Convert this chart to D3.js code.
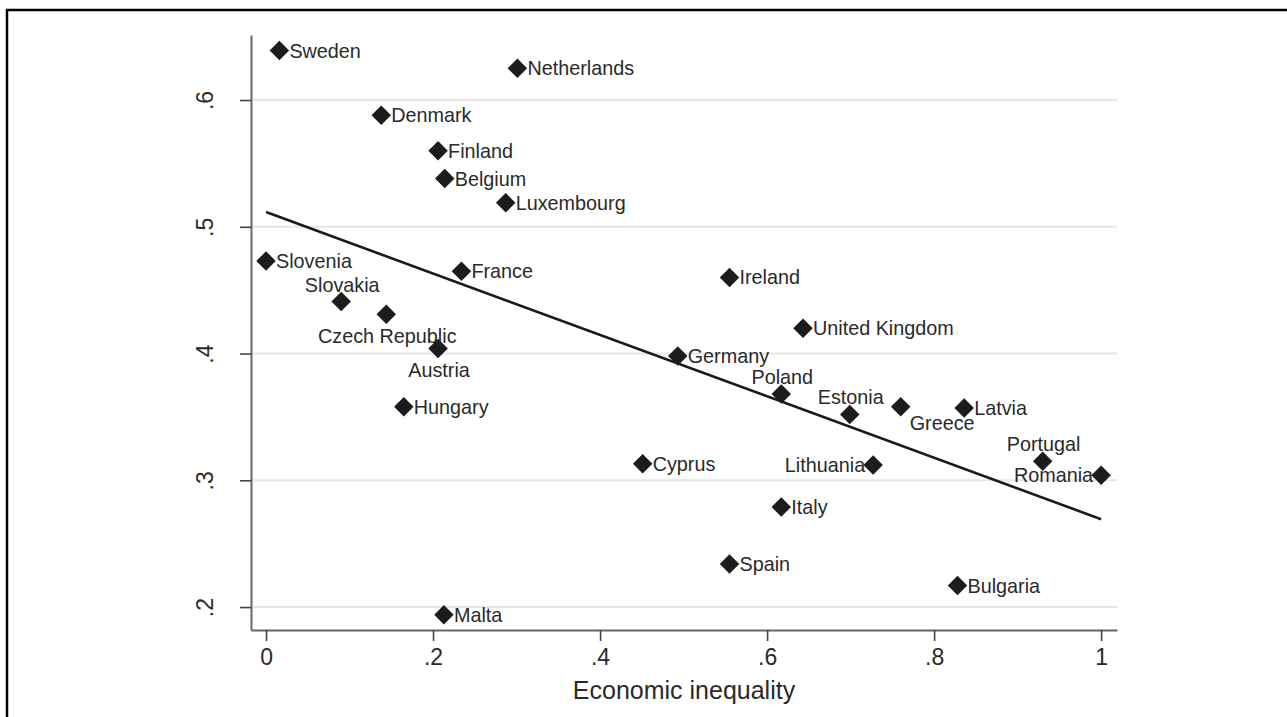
<!DOCTYPE html>
<html>
<head>
<meta charset="utf-8">
<script src="https://cdn.jsdelivr.net/npm/d3@7"></script>
<style>
  html, body { margin: 0; padding: 0; background: #fff; }
  svg { display: block; }
  text { font-family: "Liberation Sans", Arial, sans-serif; fill: #2a2a2a; }
</style>
</head>
<body>
<svg id="chart" width="1287" height="717"></svg>
<script>
// Country scores: economic inequality (x) against the outcome measure (y)
const countries = ["Sweden","Netherlands","Denmark","Finland","Belgium","Luxembourg","Slovenia","France",
  "Ireland","Slovakia","Czech Republic","United Kingdom","Austria","Germany","Poland","Estonia","Greece",
  "Latvia","Hungary","Cyprus","Lithuania","Portugal","Romania","Italy","Spain","Bulgaria","Malta"];
const inequality = [0.016,0.301,0.138,0.206,0.214,0.287,0.0,0.234,0.555,0.090,0.144,0.643,0.206,0.493,
  0.617,0.699,0.760,0.836,0.165,0.451,0.727,0.930,1.0,0.617,0.555,0.828,0.213];
const outcome = [0.639,0.625,0.588,0.560,0.538,0.519,0.473,0.465,0.460,0.441,0.431,0.420,0.404,0.398,
  0.368,0.352,0.358,0.357,0.358,0.313,0.312,0.315,0.304,0.279,0.234,0.217,0.194];
// Label placement around each marker (clock position)
const labelPos = [3,3,3,3,3,3,3,3,3,12,6,3,6,3,12,12,4,3,3,3,9,12,9,3,3,3,3];

// Fitted line: value at inequality 0 and at 1
const fitX = [0, 1];
const fitY = [0.5116, 0.2693];

const xTicks = [0, 0.2, 0.4, 0.6, 0.8, 1];
const yTicks = [0.2, 0.3, 0.4, 0.5, 0.6];
const xTitle = "Economic inequality";

const svg = d3.select("#chart");
const plot = { left: 251, right: 1117, top: 35, bottom: 630 };

const x = d3.scaleLinear().domain([-0.018, 1.019]).range([plot.left, plot.right]);
const y = d3.scaleLinear().domain([0.1819, 0.6513]).range([plot.bottom, plot.top]);
const fmt = v => v === 0 ? "0" : v === 1 ? "1" : d3.format(".1f")(v).replace(/^0/, "");

// outer frame
svg.append("path")
  .attr("d", `M7,${717 + 5} L7,10 L${1287 + 5},10`)
  .attr("fill", "none").attr("stroke", "#000").attr("stroke-width", 2.5);

// horizontal gridlines
svg.append("g").selectAll("line").data(yTicks).join("line")
  .attr("x1", plot.left).attr("x2", plot.right)
  .attr("y1", d => y(d)).attr("y2", d => y(d))
  .attr("stroke", "#e6e6e6").attr("stroke-width", 2);

// axes
const xAxis = svg.append("g").attr("transform", `translate(0,${plot.bottom})`)
  .call(d3.axisBottom(x).tickValues(xTicks).tickFormat(fmt).tickSizeInner(11).tickSizeOuter(0).tickPadding(8));
const yAxis = svg.append("g").attr("transform", `translate(${plot.left},0)`)
  .call(d3.axisLeft(y).tickValues(yTicks).tickFormat(fmt).tickSizeInner(11).tickSizeOuter(0).tickPadding(0));
[xAxis, yAxis].forEach(g => {
  g.select(".domain").attr("stroke", "#666").attr("stroke-width", 2);
  g.selectAll(".tick line").attr("stroke", "#444").attr("stroke-width", 1.6);
  g.selectAll(".tick text").style("font-family", '"Liberation Sans", Arial, sans-serif')
    .style("font-size", "23px").attr("fill", "#2a2a2a");
});
xAxis.selectAll(".tick text").attr("dy", "0.71em");
yAxis.selectAll(".tick text")
  .attr("x", null).attr("dy", null)
  .attr("text-anchor", "middle")
  .attr("transform", "translate(-38,0) rotate(-90)");

// axis title
svg.append("text")
  .attr("x", (plot.left + plot.right) / 2).attr("y", 699)
  .attr("text-anchor", "middle").style("font-size", "25px")
  .text(xTitle);

// fitted line
svg.append("line")
  .attr("x1", x(fitX[0])).attr("y1", y(fitY[0]))
  .attr("x2", x(fitX[1])).attr("y2", y(fitY[1]))
  .attr("stroke", "#1a1a1a").attr("stroke-width", 2.6);

// markers
const pts = countries.map((c, i) => ({ name: c, x: inequality[i], y: outcome[i], pos: labelPos[i] }));
const diamond = d3.symbol().type(d3.symbolSquare).size(190);
svg.append("g").selectAll("path").data(pts).join("path")
  .attr("d", diamond)
  .attr("transform", d => `translate(${x(d.x)},${y(d.y)}) rotate(45)`)
  .attr("fill", "#1c1c1c");

// labels
const offsets = {
  3: { dx: 10, dy: 7, anchor: "start" },
  4: { dx: 9, dy: 23, anchor: "start" },
  6: { dx: 1, dy: 29, anchor: "middle" },
  9: { dx: -8, dy: 7, anchor: "end" },
  12: { dx: 1, dy: -10, anchor: "middle" }
};
svg.append("g").selectAll("text").data(pts).join("text")
  .attr("x", d => x(d.x) + offsets[d.pos].dx)
  .attr("y", d => y(d.y) + offsets[d.pos].dy)
  .attr("text-anchor", d => offsets[d.pos].anchor)
  .style("font-size", "19.8px")
  .text(d => d.name);
</script>
</body>
</html>
